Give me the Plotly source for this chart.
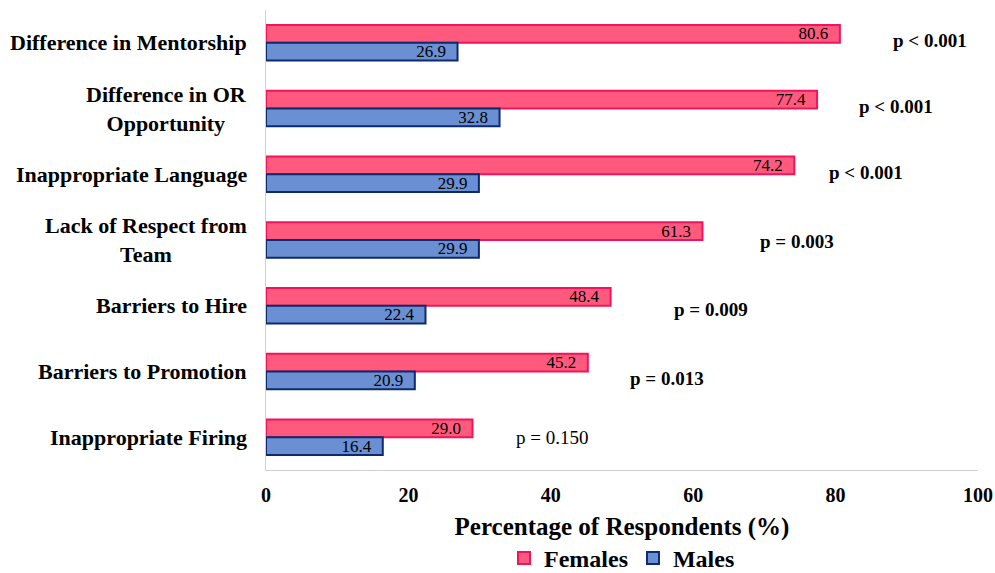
import plotly.graph_objects as go

categories = [
    "Difference in Mentorship",
    "Difference in OR<br>Opportunity",
    "Inappropriate Language",
    "Lack of Respect from<br>Team",
    "Barriers to Hire",
    "Barriers to Promotion",
    "Inappropriate Firing",
]
females = [80.6, 77.4, 74.2, 61.3, 48.4, 45.2, 29.0]
males = [26.9, 32.8, 29.9, 29.9, 22.4, 20.9, 16.4]
p_labels = ["p < 0.001", "p < 0.001", "p < 0.001", "p = 0.003", "p = 0.009", "p = 0.013", "p = 0.150"]
p_bold = [True, True, True, True, True, True, False]
# label placement (style)
p_label_x = [93.3, 88.5, 84.3, 74.6, 62.5, 56.3, 40.2]
p_label_yshift = [2, 2, 2, -1, -4, -7, 0]

FONT = "Liberation Serif"

fig = go.Figure()
fig.add_trace(go.Bar(
    y=categories, x=females, name="Females", orientation="h",
    marker=dict(color="#FF5A7D", line=dict(color="#F0145A", width=2)),
    text=[f"{v:.1f}\u00a0\u00a0" for v in females], textposition="inside",
    insidetextanchor="end", constraintext="none",
    textfont=dict(family=FONT, size=17, color="black"),
))
fig.add_trace(go.Bar(
    y=categories, x=males, name="Males", orientation="h",
    marker=dict(color="#6A8FD2", line=dict(color="#0E2A6E", width=2)),
    text=[f"{v:.1f}\u00a0\u00a0" for v in males], textposition="inside",
    insidetextanchor="end", constraintext="none",
    textfont=dict(family=FONT, size=17, color="black"),
))

for cat, lab, b, px, ys in zip(categories, p_labels, p_bold, p_label_x, p_label_yshift):
    fig.add_annotation(
        x=px, y=cat, text=f"<b>{lab}</b>" if b else lab, showarrow=False,
        xanchor="center", yanchor="middle", yshift=ys,
        font=dict(family=FONT, size=19, color="black"),
    )

# category labels (centered multi-line, like the original)
for cat in categories:
    fig.add_annotation(
        x=0, xref="paper", y=cat, yref="y", text=f"<b>{cat}</b>", showarrow=False,
        xanchor="right", yanchor="middle", xshift=-17, align="center",
        font=dict(family=FONT, size=22, color="black"),
    )

fig.update_layout(
    width=995, height=573,
    margin=dict(l=266, r=17, t=10, b=103, autoexpand=False),
    paper_bgcolor="white", plot_bgcolor="white",
    barmode="group", bargap=0.46, bargroupgap=0,
    font=dict(family=FONT, color="black"),
    showlegend=True,
    legend=dict(
        orientation="h", x=0.5, xanchor="center", y=-0.192, yanchor="middle",
        font=dict(family=FONT, size=24, color="black", weight="bold"),
        itemwidth=30, tracegroupgap=0,
    ),
    xaxis=dict(
        range=[0, 100], dtick=20, showgrid=False, zeroline=False,
        showline=True, linecolor="#D0D0D0", linewidth=1, mirror=False,
        ticks="outside", ticklen=0, ticklabelstandoff=7, ticklabeloverflow="allow",
        tickfont=dict(family=FONT, size=20, color="black", weight="bold"),
        title=dict(text="<b>Percentage of Respondents (%)</b>",
                   font=dict(family=FONT, size=25, color="black"), standoff=12),
    ),
    yaxis=dict(
        categoryorder="array", categoryarray=categories, autorange="reversed",
        showgrid=False, showline=True, linecolor="#D0D0D0", linewidth=1,
        ticks="", showticklabels=False,
    ),
)

fig.write_html(
    "out.html",
    config={"displayModeBar": False},
    post_script="document.body.style.margin='0';document.body.style.overflow='hidden';",
)
